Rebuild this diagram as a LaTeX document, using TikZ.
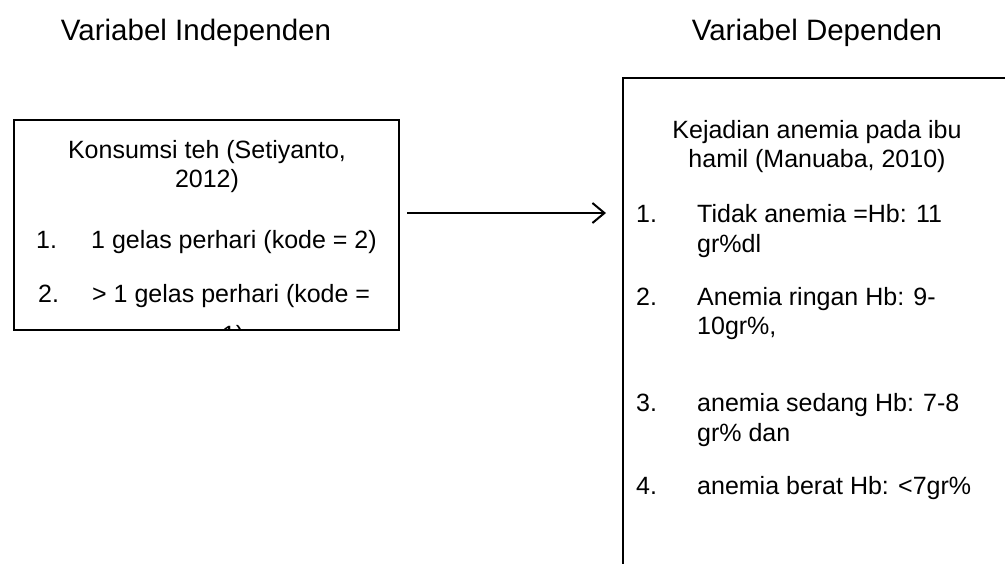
\documentclass[tikz,border=0pt]{standalone}
\usepackage{fontspec}
\setmainfont{Liberation Sans}
\usetikzlibrary{arrows.meta}
\begin{document}
\begin{tikzpicture}[x=1pt,y=-1pt,
  box/.style={draw=black,line width=2.4pt,inner sep=0pt,outer sep=0pt},
  body/.style={inner sep=0pt,font=\fontsize{25}{29}\selectfont},
  ttl/.style={inner sep=0pt,font=\fontsize{29.5}{34}\selectfont},
  conn/.style={line width=2pt,-{Straight Barb[length=12pt,width=20pt,line width=2pt]}}]
\useasboundingbox (0,0) rectangle (1005,563);
% titles
\node[ttl,anchor=base] (t1) at (196,40) {Variabel Independen};
\node[ttl,anchor=base] (t2) at (817,40) {Variabel Dependen};
% boxes
\node[box,anchor=north west,minimum width=385pt,minimum height=210pt] (lbox) at (14,120) {};
\node[box,anchor=north west,minimum width=388pt,minimum height=540pt] (rbox) at (623,78) {};
% left box text
\node[body,anchor=base] (lh1) at (207,158) {Konsumsi teh (Setiyanto,};
\node[body,anchor=base] (lh2) at (207,187) {2012)};
\node[body,anchor=base west] (ln1) at (36,248) {1.};
\node[body,anchor=base west] (li1) at (91,248) {1 gelas perhari (kode = 2)};
\node[body,anchor=base west] (ln2) at (38,302) {2.};
\node[body,anchor=base west] (li2) at (92,302) {> 1 gelas perhari (kode =};
\begin{scope}
\clip (15,121) rectangle (398,328.8);
\node[body,anchor=base] (li2b) at (233,343) {1)};
\end{scope}
% right box text
\node[body,anchor=base] (rh1) at (817,138) {Kejadian anemia pada ibu};
\node[body,anchor=base] (rh2) at (817,167) {hamil (Manuaba, 2010)};
\node[body,anchor=base west] (rn1) at (636,222) {1.};
\node[body,anchor=base west] (ri1) at (697,222) {Tidak anemia =Hb: 11};
\node[body,anchor=base west] (ri1b) at (697,252) {gr\%dl};
\node[body,anchor=base west] (rn2) at (636,305) {2.};
\node[body,anchor=base west] (ri2) at (697,305) {Anemia ringan Hb: 9-};
\node[body,anchor=base west] (ri2b) at (697,334) {10gr\%,};
\node[body,anchor=base west] (rn3) at (636,411) {3.};
\node[body,anchor=base west] (ri3) at (697,411) {anemia sedang Hb: 7-8};
\node[body,anchor=base west] (ri3b) at (697,441) {gr\% dan};
\node[body,anchor=base west] (rn4) at (636,494) {4.};
\node[body,anchor=base west] (ri4) at (697,494) {anemia berat Hb: <7gr\%};
% connector
\coordinate (as) at (407,213);
\coordinate (ae) at (606,213);
\draw[conn] (as) -- (ae);
\end{tikzpicture}
\end{document}
